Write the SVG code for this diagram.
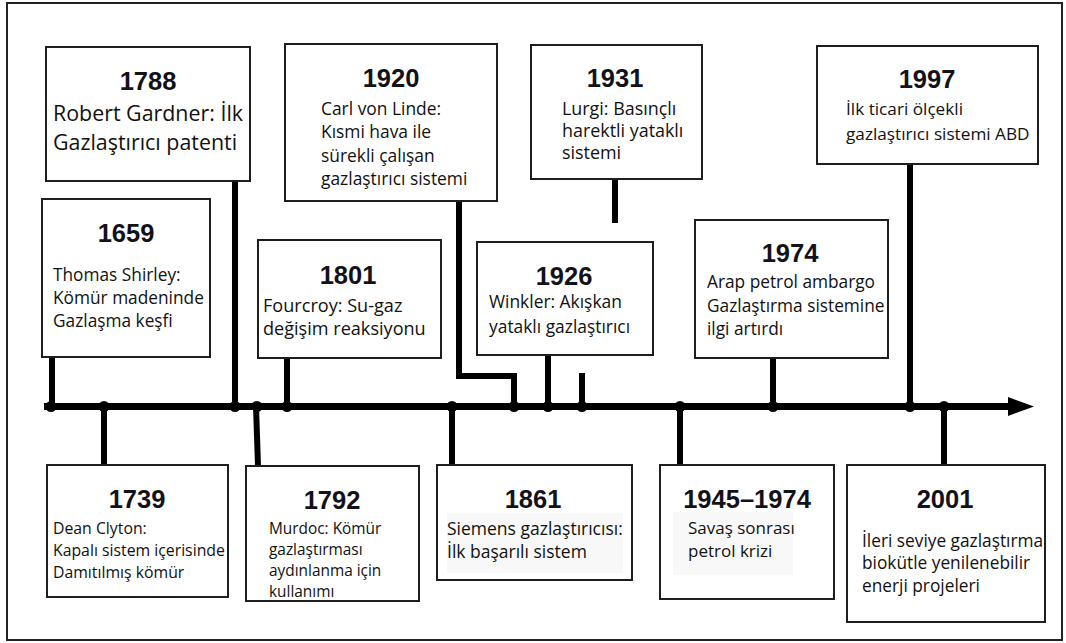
<svg xmlns="http://www.w3.org/2000/svg" width="1066" height="643" viewBox="0 0 1066 643">
<style>
.box{fill:#fff;stroke:#1e1e1e;stroke-width:2}
.yr{font-family:"Liberation Sans",Arial,sans-serif;font-weight:bold;font-size:25.5px;fill:#121218;text-anchor:middle}
.d{font-family:"Open Sans","Noto Sans",sans-serif;fill:#111}
.conn{stroke:#000;stroke-width:6;fill:none;stroke-linejoin:miter}
.axis{stroke:#000;stroke-width:7;fill:none}
.dot{fill:#000}
.bg{fill:#f8f8f8}
</style>
<rect x="0" y="0" width="1066" height="643" fill="#fff"/>
<rect x="7" y="3" width="1055" height="637" fill="#fff" stroke="#222" stroke-width="2"/>

<g id="connectors">
  <line class="axis" x1="44" y1="406.5" x2="1012" y2="406.5"/>
  <polygon points="1008,397 1034,406.5 1008,416" fill="#000"/>
  <path class="conn" d="M52,357 V406"/>
  <path class="conn" d="M235,181 V406"/>
  <path class="conn" d="M104,406 V466"/>
  <path class="conn" d="M256,406 L258,466"/>
  <path class="conn" d="M287,358 V406"/>
  <path class="conn" d="M452,406 V466"/>
  <path class="conn" d="M459,201 V376 H514 V406"/>
  <path class="conn" d="M548,355 V406"/>
  <path class="conn" d="M582,373 V406"/>
  <path class="conn" d="M615,180 V223"/>
  <path class="conn" d="M680,406 V466"/>
  <path class="conn" d="M773,358 V406"/>
  <path class="conn" d="M910,164 V406"/>
  <path class="conn" d="M944,406 V466"/>
  <circle class="dot" cx="51" cy="406.5" r="5.5"/>
  <circle class="dot" cx="104" cy="406.5" r="5.5"/>
  <circle class="dot" cx="235" cy="406.5" r="5.5"/>
  <circle class="dot" cx="257" cy="406.5" r="5.5"/>
  <circle class="dot" cx="287" cy="406.5" r="5.5"/>
  <circle class="dot" cx="452" cy="406.5" r="5.5"/>
  <circle class="dot" cx="514" cy="406.5" r="5.5"/>
  <circle class="dot" cx="548" cy="406.5" r="5.5"/>
  <circle class="dot" cx="582" cy="406.5" r="5.5"/>
  <circle class="dot" cx="680" cy="406.5" r="5.5"/>
  <circle class="dot" cx="773" cy="406.5" r="5.5"/>
  <circle class="dot" cx="910" cy="406.5" r="5.5"/>
  <circle class="dot" cx="944" cy="406.5" r="5.5"/>
</g>

<g id="n1788">
  <rect class="box" x="46" y="47" width="204" height="134"/>
  <text class="yr" x="148" y="90">1788</text>
  <text class="d" font-size="21.4" x="53" y="121">Robert Gardner: İlk</text>
  <text class="d" font-size="21.4" x="53" y="150">Gazlaştırıcı patenti</text>
</g>

<g id="n1659">
  <rect class="box" x="42" y="199" width="168" height="158"/>
  <text class="yr" x="126" y="242">1659</text>
  <text class="d" font-size="17.3" x="53" y="281">Thomas Shirley:</text>
  <text class="d" font-size="17.3" x="53" y="304">Kömür madeninde</text>
  <text class="d" font-size="17.3" x="53" y="327">Gazlaşma keşfi</text>
</g>

<g id="n1920">
  <rect class="box" x="285" y="44" width="212" height="157"/>
  <text class="yr" x="391" y="87">1920</text>
  <text class="d" font-size="17.4" x="321" y="115">Carl von Linde:</text>
  <text class="d" font-size="17.4" x="321" y="138">Kısmi hava ile</text>
  <text class="d" font-size="17.4" x="321" y="162">sürekli çalışan</text>
  <text class="d" font-size="17.4" x="321" y="185">gazlaştırıcı sistemi</text>
</g>

<g id="n1801">
  <rect class="box" x="258" y="240" width="183" height="118"/>
  <text class="yr" x="348" y="284">1801</text>
  <text class="d" font-size="18.1" x="263" y="312">Fourcroy: Su-gaz</text>
  <text class="d" font-size="18.1" x="263" y="335">değişim reaksiyonu</text>
</g>

<g id="n1931">
  <rect class="box" x="531" y="45" width="171" height="134"/>
  <text class="yr" x="615" y="87">1931</text>
  <text class="d" font-size="17.9" x="562" y="115">Lurgi: Basınçlı</text>
  <text class="d" font-size="17.9" x="562" y="137">harektli yataklı</text>
  <text class="d" font-size="17.9" x="562" y="159">sistemi</text>
</g>

<g id="n1926">
  <rect class="box" x="477" y="242" width="176" height="113"/>
  <text class="yr" x="564" y="285">1926</text>
  <text class="d" font-size="17.4" x="489" y="308">Winkler: Akışkan</text>
  <text class="d" font-size="17.4" x="489" y="333">yataklı gazlaştırıcı</text>
</g>

<g id="n1974">
  <rect class="box" x="695" y="220" width="193" height="138"/>
  <text class="yr" x="790" y="262">1974</text>
  <text class="d" font-size="17.3" x="707" y="288">Arap petrol ambargo</text>
  <text class="d" font-size="17.3" x="707" y="312">Gazlaştırma sistemine</text>
  <text class="d" font-size="17.3" x="707" y="335">ilgi artırdı</text>
</g>

<g id="n1997">
  <rect class="box" x="817" y="46" width="221" height="118"/>
  <text class="yr" x="927" y="88">1997</text>
  <text class="d" font-size="17.2" x="846" y="115">İlk ticari ölçekli</text>
  <text class="d" font-size="17.2" x="846" y="140">gazlaştırıcı sistemi ABD</text>
</g>

<g id="n1739">
  <rect class="box" x="47" y="465" width="181" height="132"/>
  <text class="yr" x="137" y="508">1739</text>
  <text class="d" font-size="15.8" x="53" y="534">Dean Clyton:</text>
  <text class="d" font-size="15.8" x="53" y="556">Kapalı sistem içerisinde</text>
  <text class="d" font-size="15.8" x="53" y="578">Damıtılmış kömür</text>
</g>

<g id="n1792">
  <rect class="box" x="246" y="466" width="173" height="135"/>
  <text class="yr" x="332" y="509">1792</text>
  <text class="d" font-size="15.4" x="269" y="534">Murdoc: Kömür</text>
  <text class="d" font-size="15.4" x="269" y="555">gazlaştırması</text>
  <text class="d" font-size="15.4" x="269" y="576">aydınlanma için</text>
  <text class="d" font-size="15.4" x="269" y="597">kullanımı</text>
</g>

<g id="n1861">
  <rect class="box" x="437" y="465" width="195" height="115"/>
  <rect class="bg" x="447" y="513" width="176" height="60"/>
  <text class="yr" x="533" y="508">1861</text>
  <text class="d" font-size="17.5" x="447" y="535">Siemens gazlaştırıcısı:</text>
  <text class="d" font-size="17.5" x="447" y="558">İlk başarılı sistem</text>
</g>

<g id="n1945">
  <rect class="box" x="660" y="465" width="174" height="134"/>
  <rect class="bg" x="673" y="512" width="120" height="63"/>
  <text class="yr" x="747" y="508" font-size="26.8">1945–1974</text>
  <text class="d" font-size="17" x="688" y="534">Savaş sonrası</text>
  <text class="d" font-size="17" x="688" y="557">petrol krizi</text>
</g>

<g id="n2001">
  <rect class="box" x="847" y="465" width="198" height="157"/>
  <text class="yr" x="945" y="508">2001</text>
  <text class="d" font-size="17.3" x="862" y="547">İleri seviye gazlaştırma</text>
  <text class="d" font-size="17.3" x="862" y="569">biokütle yenilenebilir</text>
  <text class="d" font-size="17.3" x="862" y="592">enerji projeleri</text>
</g>
</svg>
